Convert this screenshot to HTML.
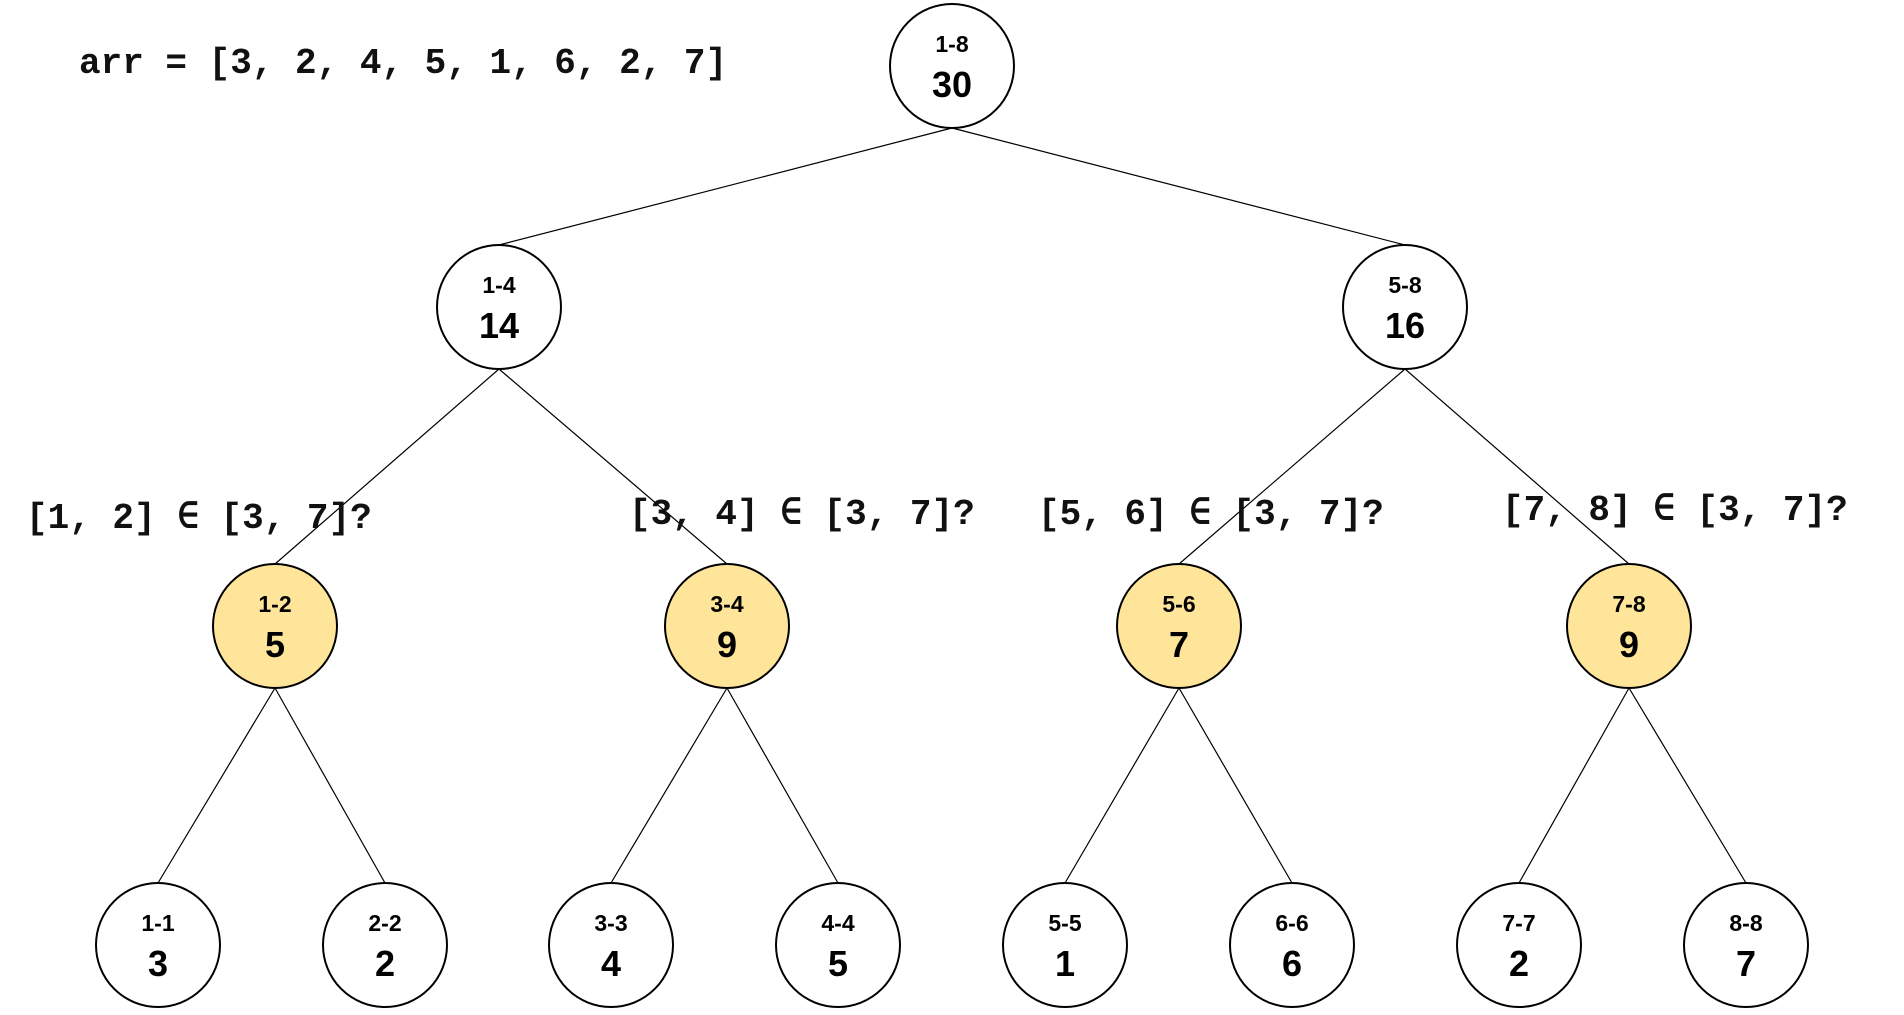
<!DOCTYPE html>
<html><head><meta charset="utf-8"><style>
html,body{margin:0;padding:0;background:#fff;}
svg{display:block;}
.m{font-family:"Liberation Mono",monospace;font-weight:bold;font-size:36px;fill:#111;}
.r{font-family:"Liberation Sans",sans-serif;font-weight:bold;font-size:23px;fill:#000;text-anchor:middle;}
.v{font-family:"Liberation Sans",sans-serif;font-weight:bold;font-size:36px;fill:#000;text-anchor:middle;}
</style></head><body>
<svg width="1904" height="1015" viewBox="0 0 1904 1015" xmlns="http://www.w3.org/2000/svg">
<g stroke="#000" stroke-width="1.2">
<line x1="952" y1="128" x2="499" y2="245"/>
<line x1="952" y1="128" x2="1405" y2="245"/>
<line x1="499" y1="369" x2="275" y2="564"/>
<line x1="499" y1="369" x2="727" y2="564"/>
<line x1="1405" y1="369" x2="1179" y2="564"/>
<line x1="1405" y1="369" x2="1629" y2="564"/>
<line x1="275" y1="688" x2="158" y2="883"/>
<line x1="275" y1="688" x2="385" y2="883"/>
<line x1="727" y1="688" x2="611" y2="883"/>
<line x1="727" y1="688" x2="838" y2="883"/>
<line x1="1179" y1="688" x2="1065" y2="883"/>
<line x1="1179" y1="688" x2="1292" y2="883"/>
<line x1="1629" y1="688" x2="1519" y2="883"/>
<line x1="1629" y1="688" x2="1746" y2="883"/>
</g>
<text class="m" x="79" y="73">arr = [3, 2, 4, 5, 1, 6, 2, 7]</text>
<text class="m" x="26" y="528">[1, 2] ∈ [3, 7]?</text>
<text class="m" x="629" y="524">[3, 4] ∈ [3, 7]?</text>
<text class="m" x="1038" y="524">[5, 6] ∈ [3, 7]?</text>
<text class="m" x="1502" y="520">[7, 8] ∈ [3, 7]?</text>
<g stroke="#000" stroke-width="2">
<circle cx="952" cy="66" r="62" fill="#fff"/>
<circle cx="499" cy="307" r="62" fill="#fff"/>
<circle cx="1405" cy="307" r="62" fill="#fff"/>
<circle cx="275" cy="626" r="62" fill="#fee599"/>
<circle cx="727" cy="626" r="62" fill="#fee599"/>
<circle cx="1179" cy="626" r="62" fill="#fee599"/>
<circle cx="1629" cy="626" r="62" fill="#fee599"/>
<circle cx="158" cy="945" r="62" fill="#fff"/>
<circle cx="385" cy="945" r="62" fill="#fff"/>
<circle cx="611" cy="945" r="62" fill="#fff"/>
<circle cx="838" cy="945" r="62" fill="#fff"/>
<circle cx="1065" cy="945" r="62" fill="#fff"/>
<circle cx="1292" cy="945" r="62" fill="#fff"/>
<circle cx="1519" cy="945" r="62" fill="#fff"/>
<circle cx="1746" cy="945" r="62" fill="#fff"/>
</g>
<text class="r" x="952" y="52">1-8</text><text class="v" x="952" y="97">30</text>
<text class="r" x="499" y="293">1-4</text><text class="v" x="499" y="338">14</text>
<text class="r" x="1405" y="293">5-8</text><text class="v" x="1405" y="338">16</text>
<text class="r" x="275" y="612">1-2</text><text class="v" x="275" y="657">5</text>
<text class="r" x="727" y="612">3-4</text><text class="v" x="727" y="657">9</text>
<text class="r" x="1179" y="612">5-6</text><text class="v" x="1179" y="657">7</text>
<text class="r" x="1629" y="612">7-8</text><text class="v" x="1629" y="657">9</text>
<text class="r" x="158" y="931">1-1</text><text class="v" x="158" y="976">3</text>
<text class="r" x="385" y="931">2-2</text><text class="v" x="385" y="976">2</text>
<text class="r" x="611" y="931">3-3</text><text class="v" x="611" y="976">4</text>
<text class="r" x="838" y="931">4-4</text><text class="v" x="838" y="976">5</text>
<text class="r" x="1065" y="931">5-5</text><text class="v" x="1065" y="976">1</text>
<text class="r" x="1292" y="931">6-6</text><text class="v" x="1292" y="976">6</text>
<text class="r" x="1519" y="931">7-7</text><text class="v" x="1519" y="976">2</text>
<text class="r" x="1746" y="931">8-8</text><text class="v" x="1746" y="976">7</text>
</svg>
</body></html>
